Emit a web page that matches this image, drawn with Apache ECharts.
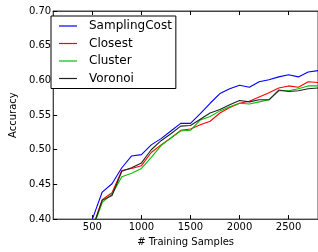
<!DOCTYPE html>
<html>
<head>
<meta charset="utf-8">
<script src="https://cdn.jsdelivr.net/npm/echarts@6.0.0/dist/echarts.min.js"></script>
<style>
html, body { margin: 0; padding: 0; background: #fff; }
#chart { width: 318px; height: 252px; }
</style>
</head>
<body>
<div id="chart"></div>
<script>
// training sample counts (x axis)
var samples = [500, 600, 700, 800, 900, 1000, 1100, 1200, 1300, 1400, 1500, 1600,
               1700, 1800, 1900, 2000, 2100, 2200, 2300, 2400, 2500, 2600, 2700, 2800];

// accuracy per method
var samplingCost = [0.400, 0.439, 0.451, 0.474, 0.491, 0.493, 0.507, 0.516, 0.527, 0.538, 0.538, 0.552,
                    0.567, 0.581, 0.588, 0.593, 0.590, 0.598, 0.601, 0.605, 0.608, 0.605, 0.612, 0.614];
var closest = [0.387, 0.428, 0.438, 0.470, 0.473, 0.477, 0.496, 0.507, 0.517, 0.528, 0.530, 0.536,
               0.541, 0.553, 0.561, 0.567, 0.570, 0.576, 0.582, 0.589, 0.592, 0.590, 0.598, 0.597];
var cluster = [0.385, 0.424, 0.436, 0.461, 0.466, 0.473, 0.489, 0.506, 0.517, 0.527, 0.528, 0.543,
               0.548, 0.556, 0.562, 0.567, 0.566, 0.569, 0.572, 0.585, 0.585, 0.588, 0.592, 0.592];
var voronoi = [0.386, 0.427, 0.434, 0.469, 0.474, 0.481, 0.500, 0.513, 0.523, 0.534, 0.535, 0.544,
               0.553, 0.558, 0.565, 0.571, 0.569, 0.572, 0.572, 0.586, 0.584, 0.585, 0.588, 0.589];

var xTicks = [500, 1000, 1500, 2000, 2500];
var names = ['SamplingCost', 'Closest', 'Cluster', 'Voronoi'];
var colors = ['#0000ff', '#ff0000', '#00c000', '#222222'];
var allData = [samplingCost, closest, cluster, voronoi];

function pairs(ys) {
    var out = [];
    for (var i = 0; i < samples.length; i++) {
        out.push([samples[i], ys[i]]);
    }
    return out;
}

var font = 'DejaVu Sans';
var series = [];
for (var k = 0; k < names.length; k++) {
    series.push({
        name: names[k],
        type: 'line',
        xAxisIndex: 0,
        symbol: 'none',
        lineStyle: { color: colors[k], width: 1.1 },
        itemStyle: { color: colors[k], borderWidth: 0 },
        data: pairs(allData[k])
    });
}

var myChart = echarts.init(document.getElementById('chart'));
var option = {
    animation: false,
    grid: {
        left: 45, right: -3, top: 11, bottom: 28,
        show: true, borderColor: '#444', borderWidth: 1, backgroundColor: 'transparent'
    },
    legend: {
        left: 51, top: 16,
        orient: 'vertical',
        icon: 'path://M0,0 L18,0 L18,1.2 L0,1.2 Z',
        symbolKeepAspect: true,
        itemStyle: { borderWidth: 0 },
        lineStyle: { width: 0 },
        itemWidth: 18, itemHeight: 12, itemGap: 5.5,
        padding: [4, 4, 4, 8],
        borderColor: '#000', borderWidth: 1, borderRadius: 0,
        backgroundColor: '#fff',
        textStyle: { fontSize: 12, fontFamily: font, color: '#000', padding: [0, 0, 0, 7] },
        data: names
    },
    xAxis: [{
        type: 'value',
        min: 100, max: 2800,
        name: '# Training Samples',
        nameLocation: 'middle',
        nameGap: 14,
        nameTextStyle: { fontSize: 10, fontFamily: font, color: '#000' },
        axisLine: { show: true, lineStyle: { color: '#444' } },
        axisTick: { show: true, inside: true, length: 4, lineStyle: { color: '#000' }, customValues: xTicks },
        axisLabel: {
            fontSize: 10, fontFamily: font, color: '#000', margin: 3, customValues: xTicks,
            formatter: function (v) { return String(v); }
        },
        splitLine: { show: false }
    }, {
        type: 'value',
        position: 'top',
        min: 100, max: 2800,
        axisLine: { show: true, lineStyle: { color: '#444' } },
        axisTick: { show: true, inside: true, length: 4, lineStyle: { color: '#000' }, customValues: xTicks },
        axisLabel: { show: false },
        splitLine: { show: false }
    }],
    yAxis: {
        type: 'value',
        min: 0.40, max: 0.70, interval: 0.05,
        name: 'Accuracy',
        nameLocation: 'middle',
        nameGap: 27,
        nameTextStyle: { fontSize: 10, fontFamily: font, color: '#000' },
        axisLine: { show: true, lineStyle: { color: '#444' } },
        axisTick: { show: true, inside: true, length: 4, lineStyle: { color: '#000' } },
        axisLabel: {
            fontSize: 10, fontFamily: font, color: '#000', margin: 2,
            formatter: function (v) { return v.toFixed(2); }
        },
        splitLine: { show: false }
    },
    series: series
};
myChart.setOption(option);
</script>
</body>
</html>
